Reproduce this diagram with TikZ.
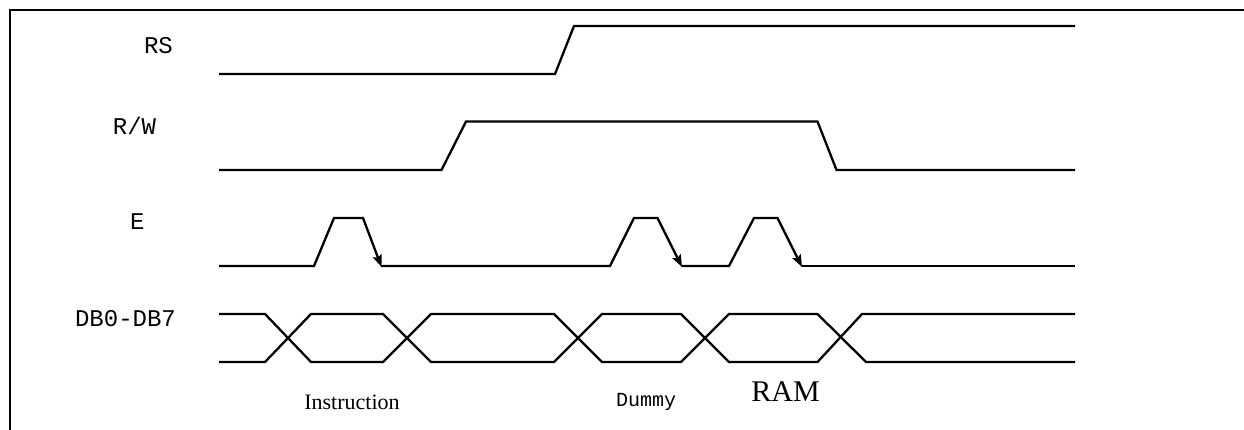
\documentclass[tikz,border=0pt]{standalone}
\usepackage{fontspec}
\setmainfont{Liberation Serif}
\setmonofont{Liberation Mono}
\usetikzlibrary{arrows.meta}
\begin{document}
\begin{tikzpicture}[x=1pt,y=-1pt,
  sig/.style={line width=2.3pt, line join=miter},
  thk/.style={line width=2.8pt},
  frameline/.style={line width=2.8pt, line join=miter},
  arr/.style={-{Stealth[length=12pt,width=9pt,inset=2pt]}},
  lbl/.style={font=\ttfamily\fontsize{24}{24}\selectfont, inner sep=0pt, anchor=base},
  dlbl/.style={font=\ttfamily\fontsize{20}{20}\selectfont, inner sep=0pt, anchor=base},
  slbl/.style={font=\fontsize{22}{22}\selectfont, inner sep=0pt, anchor=base},
  blbl/.style={font=\fontsize{30}{30}\selectfont, inner sep=0pt, anchor=base}]
\useasboundingbox (0,0) rectangle (1244,430);
\fill[white] (0,0) rectangle (1244,430);
% frame
\draw[frameline] (10,431) -- (10,10) -- (1245,10);
% labels
\node[lbl] (lrs) at (158.5,54) {RS};
\node[lbl] (lrw) at (134.5,135) {R/W};
\node[lbl] (le) at (137.3,230) {E};
\node[lbl] (ldb) at (125.5,326) {DB0-DB7};
\node[slbl] (lins) at (352,409) {Instruction};
\node[dlbl] (ldum) at (646,406.5) {Dummy};
\node[blbl] (lram) at (785.5,401.5) {RAM};
% RS
\draw[sig] (219,74) -- (555,74) -- (574,26) -- (1075,26);
\draw[thk] (699,26) -- (936,26);
% R/W
\draw[sig] (219,170) -- (441.5,170) -- (466,121.5) -- (817.5,121.5) -- (836.5,170) -- (1075,170);
% E
\draw[sig,arr] (219,266) -- (314,266) -- (334,218) -- (363,218) -- (381.5,267);
\draw[sig,arr] (381,266) -- (610,266) -- (634,218) -- (657.5,218) -- (682,267);
\draw[sig,arr] (681.5,266) -- (729,266) -- (754,218) -- (777.5,218) -- (802,267);
\draw[sig] (801.5,266) -- (1075,266);
\draw[thk] (531.5,266) -- (549.5,266);
% DB0-DB7
\draw[sig] (219,314) -- (265,314) -- (311,362) -- (383,362) -- (431,314) -- (554,314) -- (602,362) -- (681,362) -- (729,314) -- (817.5,314) -- (866,362) -- (1075,362);
\draw[sig] (219,362) -- (265,362) -- (311,314) -- (383,314) -- (431,362) -- (554,362) -- (602,314) -- (681,314) -- (729,362) -- (817.5,362) -- (862,314) -- (1075,314);
\draw[thk] (316,314) -- (370,314);
\end{tikzpicture}
\end{document}
